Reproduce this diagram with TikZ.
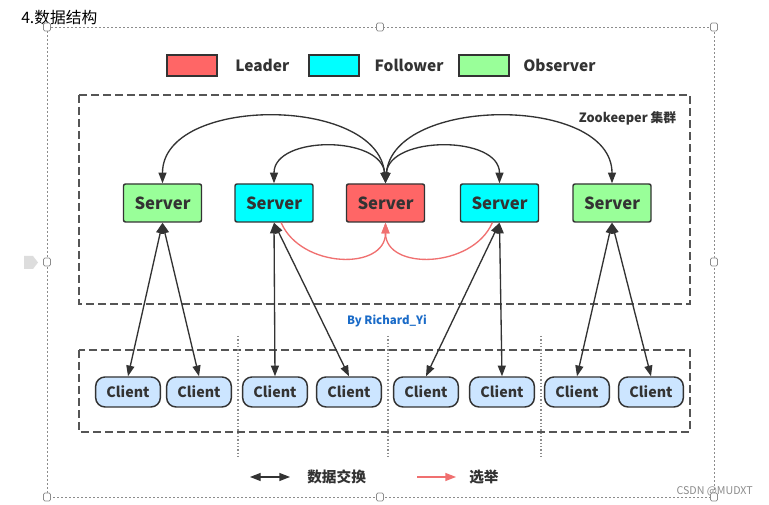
\documentclass[tikz,border=0pt]{standalone}
\usepackage{fontspec}
\setmainfont{Noto Sans CJK SC}
\usepackage{tikz}
\usetikzlibrary{arrows.meta,positioning}

\definecolor{linegray}{HTML}{333333}
\definecolor{dashgray}{HTML}{555555}
\definecolor{selgray}{HTML}{8C8C8C}
\definecolor{taggray}{HTML}{DDDDDD}
\definecolor{leadred}{HTML}{FF6666}
\definecolor{folcyan}{HTML}{00FFFF}
\definecolor{obsgreen}{HTML}{99FF99}
\definecolor{clientblue}{HTML}{CCE5FF}
\definecolor{votered}{HTML}{F07070}
\definecolor{signblue}{HTML}{1A6BC8}

\begin{document}
\begin{tikzpicture}[
          x=0.75pt, y=-0.75pt,
          every node/.style={font=\bfseries, text=linegray},
          server/.style={rectangle, draw=linegray, line width=1.1pt, rounded corners=1.5pt, minimum width=58.5pt, minimum height=28.5pt, inner sep=0pt, font=\bfseries\fontsize{12.5}{14}\selectfont},
          client/.style={rectangle, draw=linegray, fill=clientblue, line width=1.1pt, rounded corners=7pt, minimum width=48.5pt, minimum height=22.5pt, inner sep=0pt, font=\bfseries\fontsize{10.7}{12}\selectfont},
          legbox/.style={rectangle, draw=linegray, line width=1.1pt, minimum width=37.5pt, minimum height=16pt, inner sep=0pt},
          legtext/.style={inner sep=0pt, font=\bfseries\fontsize{11.6}{14}\selectfont},
          group/.style={draw=dashgray, line width=1.5pt, dash pattern=on 6pt off 3pt},
          sepline/.style={draw=selgray, line width=0.8pt, dash pattern=on 1pt off 1.5pt},
          data/.style={{Triangle[length=8pt,width=6pt]}-{Triangle[length=8pt,width=6pt]}, draw=linegray, line width=1pt},
          vote/.style={-{Triangle[length=8pt,width=6pt]}, draw=votered, fill=none, line width=1pt},
          handle/.style={draw=selgray, fill=white, line width=0.5pt, rounded corners=1pt}
        ]
          \useasboundingbox (0,0) rectangle (769,505);
          \fill[white] (0,0) rectangle (769,505);

          % Selection frame of the screenshot
          \draw[selgray, line width=0.5pt, dash pattern=on 1.5pt off 1.5pt] (47,27) rectangle (714,497);
          \fill[taggray] (24,256) -- (33,256) -- (38,262.5) -- (33,269) -- (24,269) -- cycle;
          \node[anchor=west, inner sep=0pt, text=black, font=\fontsize{11.8}{13}\selectfont] (title) at (21,18) {4.数据结构};

          % Legend
          \node[legbox, fill=leadred] (legLead) at (192,65.5) {};
          \node[legtext, right=13pt of legLead] (legLeadTxt) {Leader};
          \node[legbox, fill=folcyan] (legFol) at (334,65.5) {};
          \node[legtext, right=11pt of legFol] (legFolTxt) {Follower};
          \node[legbox, fill=obsgreen] (legObs) at (484,65.5) {};
          \node[legtext, right=10pt of legObs] (legObsTxt) {Observer};

          % Zookeeper cluster
          \draw[group] (79,95) rectangle (690,304);
          \node[anchor=east, font=\bfseries\fontsize{9.6}{11}\selectfont] (zk) at (681,118) {Zookeeper 集群};

          \node[server, fill=obsgreen] (obs1) at (162.5,203) {Server};
          \node[server, fill=folcyan] (fol1) at (274,203) {Server};
          \node[server, fill=leadred] (lead) at (385.5,203) {Server};
          \node[server, fill=folcyan] (fol2) at (499.5,203) {Server};
          \node[server, fill=obsgreen] (obs2) at (612,203) {Server};

          \draw[data] (lead.north) .. controls +(-8,-88) and +(0,-88) .. (obs1.north);
          \draw[data] (lead.north) .. controls +(-4,-48) and +(0,-48) .. (fol1.north);
          \draw[data] (lead.north) .. controls +(4,-48) and +(0,-48) .. (fol2.north);
          \draw[data] (lead.north) .. controls +(8,-88) and +(0,-88) .. (obs2.north);

          % Election
          \draw[vote] (fol1.-70) .. controls +(20,46) and +(0,48) .. (lead.south);
          \draw[vote] (fol2.-110) .. controls +(-20,46) and +(0,48) .. (lead.south);

          \node[anchor=center, font=\bfseries\fontsize{8.6}{10}\selectfont, text=signblue] (sign) at (387,321) {By Richard\_Yi};

          % Clients
          \draw[group] (79,350) rectangle (690,432);
          \draw[sepline] (238,336) -- (238,458);
          \draw[sepline] (388,336) -- (388,458);
          \draw[sepline] (541,336) -- (541,458);

          \node[client] (cl1) at (128,392) {Client};
          \node[client] (cl2) at (199,392) {Client};
          \node[client] (cl3) at (275,392) {Client};
          \node[client] (cl4) at (349,392) {Client};
          \node[client] (cl5) at (426,392) {Client};
          \node[client] (cl6) at (502,392) {Client};
          \node[client] (cl7) at (577,392) {Client};
          \node[client] (cl8) at (651,392) {Client};

          \draw[data] (obs1.south) -- (cl1.north);
          \draw[data] (obs1.south) -- (cl2.north);
          \draw[data] (fol1.south) -- (cl3.north);
          \draw[data] (fol1.south) -- (cl4.north);
          \draw[data] (fol2.south) -- (cl5.north);
          \draw[data] (fol2.south) -- (cl6.north);
          \draw[data] (obs2.south) -- (cl7.north);
          \draw[data] (obs2.south) -- (cl8.north);

          % Bottom legend
          \coordinate (dataL) at (250,477);
          \coordinate (dataR) at (290,477);
          \draw[data] (dataL) -- (dataR);
          \node[anchor=west, inner sep=0pt, font=\bfseries\fontsize{11}{13}\selectfont] (dataTxt) at (307,477) {数据交换};
          \coordinate (voteL) at (417,477);
          \coordinate (voteR) at (456,477);
          \draw[vote] (voteL) -- (voteR);
          \node[anchor=west, inner sep=0pt, font=\bfseries\fontsize{11}{13}\selectfont] (voteTxt) at (469,477) {选举};

          \node[anchor=east, inner sep=0pt, text=selgray, font=\fontsize{8}{9}\selectfont] (csdn) at (753,491) {CSDN @MUDXT};

          % Handles
          \foreach \hx/\hy in {47/27, 380/27, 714/27, 47/262, 714/262, 47/497, 380/497, 714/497}
            \draw[handle] (\hx-3.5,\hy-4) rectangle (\hx+3.5,\hy+4);

        \end{tikzpicture}
\end{document}
